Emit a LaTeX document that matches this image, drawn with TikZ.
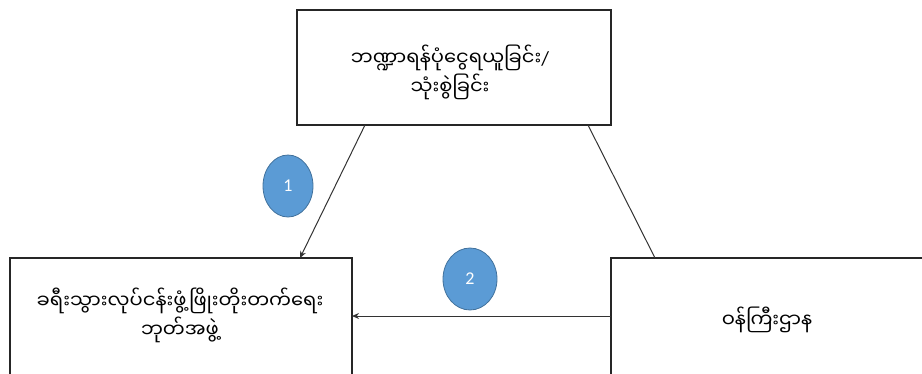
\documentclass[tikz,border=0pt]{standalone}
\usepackage{fontspec}
\newfontfamily\mmfont[Script=Myanmar]{Noto Sans Myanmar UI}
\setmainfont{Carlito}
\usetikzlibrary{arrows.meta,shapes.geometric}
\definecolor{bubble}{HTML}{5B9BD5}
\definecolor{bubbleedge}{HTML}{41719C}
\tikzset{
  box/.style={draw=black!85, line width=1.4pt, fill=white, inner sep=0pt},
  bubblenode/.style={ellipse, draw=bubbleedge, line width=0.8pt, fill=bubble, text=white, font=\fontsize{18}{20}\selectfont, inner sep=0pt},
  conn/.style={draw=black!80, line width=1pt},
  mmtext/.style={font=\mmfont\fontsize{19.5}{29}\selectfont, align=center}
}
\begin{document}
\begin{tikzpicture}[x=1pt,y=-1pt]
\useasboundingbox (0,0) rectangle (922,373);
\node[box, minimum width=314pt, minimum height=115pt] (top) at (454,67.5) {};
\node[box, minimum width=342pt, minimum height=130pt] (left) at (181,323) {};
\node[box, minimum width=330pt, minimum height=130pt] (right) at (776,323) {};
\node[mmtext] (toptext) at (450,72) {ဘဏ္ဍာရန်ပုံငွေရယူခြင်း{\rmfamily\fontsize{20}{22}\selectfont/}\\သုံးစွဲခြင်း};
\node[mmtext] (lefttext) at (180,315) {ခရီးသွားလုပ်ငန်းဖွံ့ဖြိုးတိုးတက်ရေး\\ဘုတ်အဖွဲ့};
\node[mmtext] (righttext) at (767,320) {ဝန်ကြီးဌာန};
\coordinate (a1) at (365,125);
\coordinate (a2) at (300,258);
\coordinate (b1) at (588,125);
\coordinate (b2) at (655,258);
\coordinate (c1) at (611,316);
\coordinate (c2) at (352,316);
\draw[conn, -{Stealth[length=7pt,width=6pt]}] (a1) -- (a2);
\draw[conn] (b1) -- (b2);
\draw[conn, -{Stealth[length=7pt,width=6pt]}] (c1) -- (c2);
\node[bubblenode, minimum width=50pt, minimum height=62pt] (n1) at (288,186) {1};
\node[bubblenode, minimum width=54pt, minimum height=62pt] (n2) at (470,279) {2};
\end{tikzpicture}
\end{document}
